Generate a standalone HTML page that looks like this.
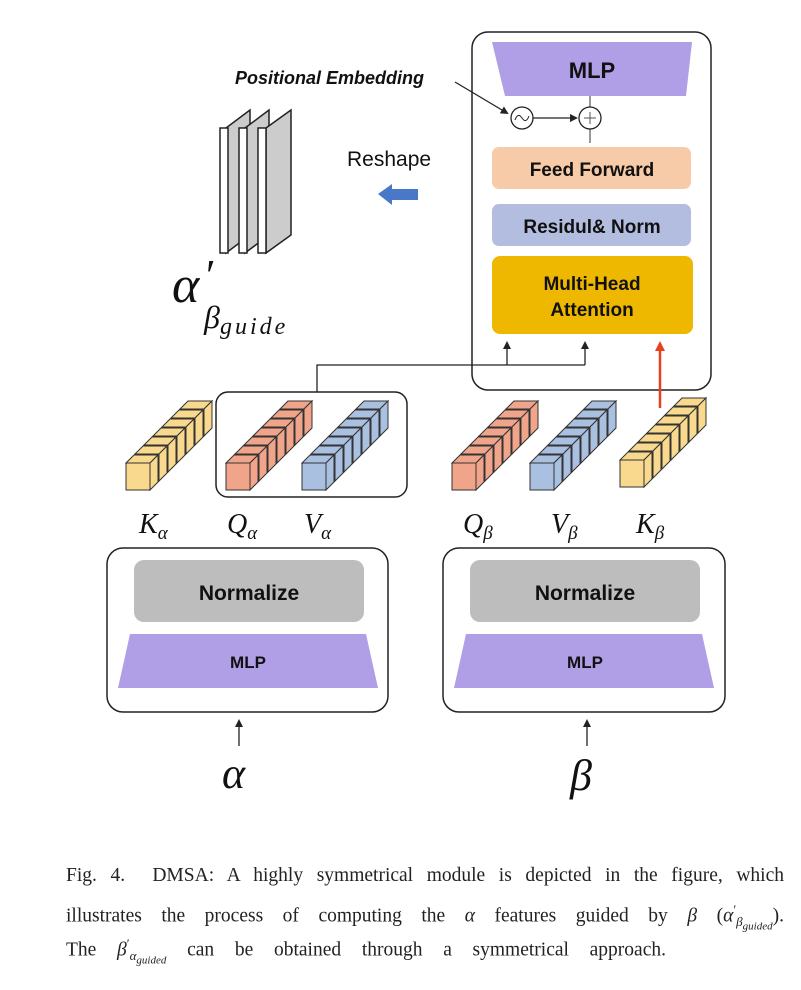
<!DOCTYPE html><html><head><style>
body{margin:0;background:#fff;width:801px;height:990px;overflow:hidden;position:relative;font-family:"Liberation Sans",sans-serif}
.cap{position:absolute;left:66px;width:718px;font-family:"Liberation Serif",serif;font-size:19.5px;color:#222;text-align:justify;text-align-last:justify;line-height:20px}
</style></head><body>
<svg width="801" height="860" style="position:absolute;left:0;top:0" font-family="Liberation Sans, sans-serif">
<defs>
<marker id="a" markerWidth="8" markerHeight="8" refX="6" refY="4" orient="auto" markerUnits="userSpaceOnUse"><path d="M0,0 L8,4 L0,8z" fill="#222"/></marker>
<marker id="r" markerWidth="10" markerHeight="10" refX="7" refY="5" orient="auto" markerUnits="userSpaceOnUse"><path d="M0,0 L10,5 L0,10z" fill="#e8401c"/></marker>
<g id="cube"><path d="M0,0 h24 l8,-8 h-24z" stroke="#333" stroke-width="1"/><path d="M24,0 v27 l8,-8 v-27z" stroke="#333" stroke-width="1"/><rect x="0" y="0" width="24" height="27" stroke="#333" stroke-width="1"/></g>
</defs>
<rect x="472" y="32" width="239" height="358" rx="16" fill="none" stroke="#222" stroke-width="1.5"/>
<path d="M492,42 H692 L686,96 H505 Z" fill="#b09ee6"/>
<text x="592" y="78" font-size="22" font-weight="bold" text-anchor="middle" fill="#111">MLP</text>
<line x1="590" y1="96" x2="590" y2="107" stroke="#333"/>
<line x1="590" y1="129" x2="590" y2="143" stroke="#333"/>
<circle cx="522" cy="118" r="11" fill="#fff" stroke="#222" stroke-width="1.3"/>
<path d="M515,120 q3,-8 7,-2 q4,6 7,-2" fill="none" stroke="#222"/>
<circle cx="590" cy="118" r="11" fill="#fff" stroke="#222" stroke-width="1.3"/>
<path d="M584,118 h12 M590,112 v12" stroke="#555"/>
<line x1="533" y1="118" x2="576" y2="118" stroke="#222" stroke-width="1.3" marker-end="url(#a)"/>
<line x1="455" y1="82" x2="507" y2="113" stroke="#222" stroke-width="1.3" marker-end="url(#a)"/>
<text x="235" y="84" font-size="18" font-weight="bold" font-style="italic" fill="#111">Positional Embedding</text>
<rect x="492" y="147" width="199" height="42" rx="7" fill="#f7cba8"/>
<text x="592" y="176" font-size="19" font-weight="bold" text-anchor="middle" fill="#111">Feed Forward</text>
<rect x="492" y="204" width="199" height="42" rx="7" fill="#b3bde0"/>
<text x="592" y="233" font-size="19" font-weight="bold" text-anchor="middle" fill="#111">Residul&amp; Norm</text>
<rect x="492" y="256" width="201" height="78" rx="8" fill="#efb800"/>
<text x="592" y="290" font-size="19" font-weight="bold" text-anchor="middle" fill="#111">Multi-Head</text>
<text x="592" y="316" font-size="19" font-weight="bold" text-anchor="middle" fill="#111">Attention</text>
<path d="M317,392 V365 H585" fill="none" stroke="#222" stroke-width="1.3"/>
<line x1="507" y1="365" x2="507" y2="343" stroke="#222" stroke-width="1.3" marker-end="url(#a)"/>
<line x1="585" y1="365" x2="585" y2="343" stroke="#222" stroke-width="1.3" marker-end="url(#a)"/>
<line x1="660" y1="408" x2="660" y2="344" stroke="#e8401c" stroke-width="2.5" marker-end="url(#r)"/>
<text x="347" y="166" font-size="21" fill="#111">Reshape</text>
<path d="M378,194 L392,184 V189 H418 V200 H392 V205 Z" fill="#4a78c8"/>
<g stroke="#222" stroke-width="1.5">
<path d="M226,128 L250,110 V235 L226,253Z" fill="#ccc"/><rect x="220" y="128" width="8" height="125" fill="#fff"/>
<path d="M245,128 L269,110 V235 L245,253Z" fill="#ccc"/><rect x="239" y="128" width="8" height="125" fill="#fff"/>
<path d="M266,128 L291,110 V235 L266,253Z" fill="#ccc"/><rect x="258" y="128" width="8" height="125" fill="#fff"/>
</g>
<text x="172" y="302" font-family="Liberation Serif, serif" font-style="italic" font-size="52" fill="#111">α</text>
<text x="206" y="290" font-family="Liberation Serif, serif" font-size="44" fill="#111">′</text>
<text x="204" y="328" font-family="Liberation Serif, serif" font-style="italic" font-size="32" fill="#111">β<tspan font-size="24" dy="6" letter-spacing="3">guide</tspan></text>
<rect x="216" y="392" width="191" height="105" rx="12" fill="none" stroke="#222" stroke-width="1.5"/>
<g fill="#f8d98e"><use href="#cube" transform="translate(180,409)"/><use href="#cube" transform="translate(171,418)"/><use href="#cube" transform="translate(162,427)"/><use href="#cube" transform="translate(153,436)"/><use href="#cube" transform="translate(144,445)"/><use href="#cube" transform="translate(135,454)"/><use href="#cube" transform="translate(126,463)"/></g>
<g fill="#f0a58a"><use href="#cube" transform="translate(280,409)"/><use href="#cube" transform="translate(271,418)"/><use href="#cube" transform="translate(262,427)"/><use href="#cube" transform="translate(253,436)"/><use href="#cube" transform="translate(244,445)"/><use href="#cube" transform="translate(235,454)"/><use href="#cube" transform="translate(226,463)"/></g>
<g fill="#a9c0e0"><use href="#cube" transform="translate(356,409)"/><use href="#cube" transform="translate(347,418)"/><use href="#cube" transform="translate(338,427)"/><use href="#cube" transform="translate(329,436)"/><use href="#cube" transform="translate(320,445)"/><use href="#cube" transform="translate(311,454)"/><use href="#cube" transform="translate(302,463)"/></g>
<g fill="#f0a58a"><use href="#cube" transform="translate(506,409)"/><use href="#cube" transform="translate(497,418)"/><use href="#cube" transform="translate(488,427)"/><use href="#cube" transform="translate(479,436)"/><use href="#cube" transform="translate(470,445)"/><use href="#cube" transform="translate(461,454)"/><use href="#cube" transform="translate(452,463)"/></g>
<g fill="#a9c0e0"><use href="#cube" transform="translate(584,409)"/><use href="#cube" transform="translate(575,418)"/><use href="#cube" transform="translate(566,427)"/><use href="#cube" transform="translate(557,436)"/><use href="#cube" transform="translate(548,445)"/><use href="#cube" transform="translate(539,454)"/><use href="#cube" transform="translate(530,463)"/></g>
<g fill="#f8d98e"><use href="#cube" transform="translate(674,406)"/><use href="#cube" transform="translate(665,415)"/><use href="#cube" transform="translate(656,424)"/><use href="#cube" transform="translate(647,433)"/><use href="#cube" transform="translate(638,442)"/><use href="#cube" transform="translate(629,451)"/><use href="#cube" transform="translate(620,460)"/></g>
<g font-family="Liberation Serif, serif" font-style="italic" font-size="28" fill="#111">
<text x="139" y="533">K<tspan font-size="19" dy="6">α</tspan></text>
<text x="227" y="533">Q<tspan font-size="19" dy="6">α</tspan></text>
<text x="304" y="533">V<tspan font-size="19" dy="6">α</tspan></text>
<text x="463" y="533">Q<tspan font-size="19" dy="6">β</tspan></text>
<text x="551" y="533">V<tspan font-size="19" dy="6">β</tspan></text>
<text x="636" y="533">K<tspan font-size="19" dy="6">β</tspan></text>
</g>
<rect x="107" y="548" width="281" height="164" rx="16" fill="none" stroke="#222" stroke-width="1.5"/>
<rect x="134" y="560" width="230" height="62" rx="10" fill="#bdbdbd"/>
<text x="249" y="600" font-size="21" font-weight="bold" text-anchor="middle" fill="#111">Normalize</text>
<path d="M130,634 H366 L378,688 H118Z" fill="#b09ee6"/>
<text x="248" y="668" font-size="17" font-weight="bold" text-anchor="middle" fill="#111">MLP</text>
<rect x="443" y="548" width="282" height="164" rx="16" fill="none" stroke="#222" stroke-width="1.5"/>
<rect x="470" y="560" width="230" height="62" rx="10" fill="#bdbdbd"/>
<text x="585" y="600" font-size="21" font-weight="bold" text-anchor="middle" fill="#111">Normalize</text>
<path d="M466,634 H702 L714,688 H454Z" fill="#b09ee6"/>
<text x="585" y="668" font-size="17" font-weight="bold" text-anchor="middle" fill="#111">MLP</text>
<line x1="239" y1="746" x2="239" y2="721" stroke="#222" stroke-width="1.3" marker-end="url(#a)"/>
<line x1="587" y1="746" x2="587" y2="721" stroke="#222" stroke-width="1.3" marker-end="url(#a)"/>
<text x="222" y="788" font-family="Liberation Serif, serif" font-style="italic" font-size="44" fill="#111">α</text>
<text x="570" y="790" font-family="Liberation Serif, serif" font-style="italic" font-size="44" fill="#111">β</text>
</svg>
<div class="cap" style="top:866px">Fig. 4.&nbsp; DMSA: A highly symmetrical module is depicted in the figure, which</div>
<div class="cap" style="top:900px">illustrates the process of computing the <i>α</i> features guided by <i>β</i> (<i>α</i><sup style="font-size:13px">′</sup><sub style="font-size:13px"><i>β<sub style="font-size:11px">guided</sub></i></sub>).</div>
<div class="cap" style="top:934px;width:600px">The <i>β</i><sup style="font-size:13px">′</sup><sub style="font-size:13px"><i>α<sub style="font-size:11px">guided</sub></i></sub> can be obtained through a symmetrical approach.</div>
</body></html>
